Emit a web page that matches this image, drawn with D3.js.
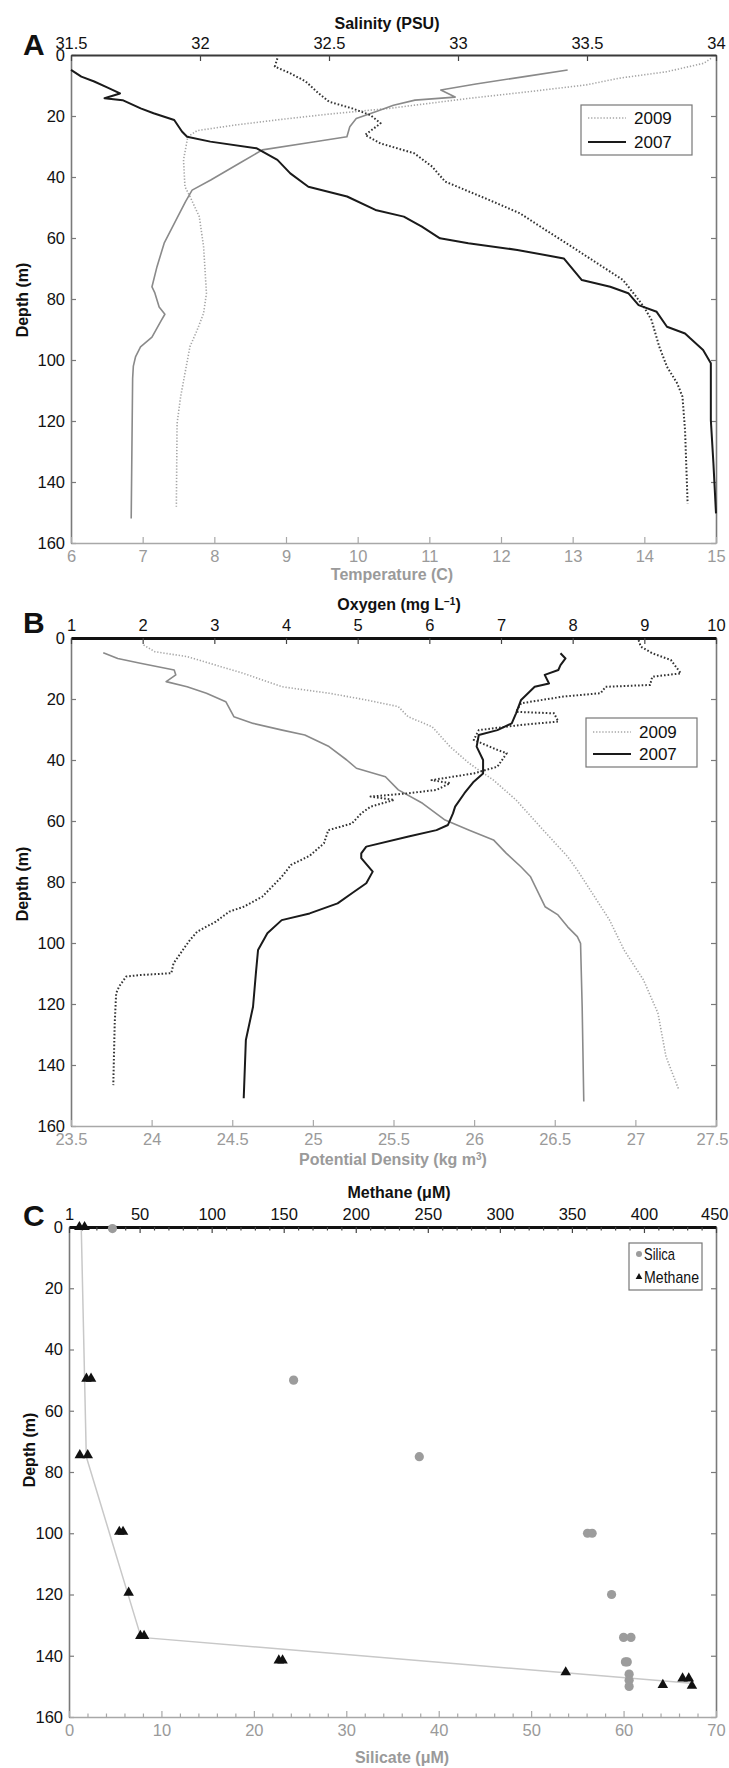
<!DOCTYPE html>
<html><head><meta charset="utf-8">
<script src="https://cdn.jsdelivr.net/npm/d3@7"></script>
<style>
body{margin:0;background:#fff;}
svg{display:block;}
</style></head><body>
<svg id="chart" width="729" height="1768"></svg>
<script>
const FONT = '"Liberation Sans", Arial, Helvetica, sans-serif';
const NARROW = '"Liberation Sans Narrow", "Liberation Sans", Arial, sans-serif';

// ---------- tick labels ----------
const depthTicks = [0,20,40,60,80,100,120,140,160];
const tempTicks = [6,7,8,9,10,11,12,13,14,15];
const salTicks = [31.5,32,32.5,33,33.5,34];
const oxyTicks = [1,2,3,4,5,6,7,8,9,10];
const densTicks = [23.5,24,24.5,25,25.5,26,26.5,27,27.5];
const methTicks = [1,50,100,150,200,250,300,350,400,450];
const methMinor = [10,20,30,40,60,70,80,90,110,120,130,140,160,170,180,190,210,220,230,240,260,270,280,290,310,320,330,340,360,370,380,390,410,420,430,440];
const silTicks = [0,10,20,30,40,50,60,70];
const silMinor = [2,4,6,8,12,14,16,18,22,24,26,28,32,34,36,38,42,44,46,48,52,54,56,58,62,64,66,68];
const yearLabels = ["2009","2007"];
const chemLabels = ["Silica","Methane"];

// ---------- Panel A: [depth (m), value] ----------
const temp2007 = [[4.9,12.93],[7.0,12.35],[9.5,11.65],[11.5,11.16],[13.8,11.36],[14.8,10.8],[16.5,10.5],[18.6,10.25],[20.8,9.98],[23.5,9.89],[26.8,9.85],[28.5,9.38],[31.1,8.67],[35.5,8.35],[41.0,7.95],[44.3,7.69],[48.0,7.60],[53.0,7.49],[61.7,7.30],[69.4,7.20],[76.0,7.13],[78.0,7.17],[82.6,7.23],[85.0,7.31],[87.0,7.26],[92.5,7.13],[95.7,6.97],[99.0,6.90],[102.0,6.87],[106.0,6.86],[152.0,6.84]];
const temp2009 = [[1.1,14.93],[2.7,14.83],[5.5,14.31],[7.6,13.65],[9.8,13.19],[12.0,12.4],[14.2,11.56],[17.5,10.44],[19.4,9.59],[21.1,8.94],[23.0,8.28],[24.8,7.76],[26.8,7.63],[34.4,7.57],[43.2,7.59],[46.4,7.66],[53.0,7.79],[62.8,7.85],[78.1,7.89],[84.7,7.85],[90.2,7.76],[95.6,7.66],[104.4,7.59],[112.0,7.53],[120.8,7.48],[148.1,7.47]];
const sal2007 = [[4.9,31.5],[7.1,31.54],[8.7,31.59],[10.6,31.64],[12.6,31.69],[14.2,31.63],[14.8,31.70],[17.5,31.77],[19.1,31.82],[21.3,31.90],[25.1,31.93],[26.8,31.95],[28.4,32.04],[30.6,32.22],[34.4,32.30],[38.8,32.35],[43.2,32.42],[46.4,32.57],[50.8,32.68],[53.0,32.79],[56.3,32.86],[60.1,32.93],[61.7,33.04],[63.9,33.23],[66.7,33.41],[73.8,33.48],[76.0,33.59],[78.1,33.66],[82.0,33.70],[84.2,33.77],[89.1,33.81],[91.3,33.88],[92.9,33.90],[96.7,33.95],[101.1,33.98],[119.7,33.98],[133.9,33.99],[150.3,34.0]];
const sal2009 = [[1.1,32.30],[3.8,32.29],[6.0,32.35],[8.7,32.41],[12.6,32.46],[15.3,32.50],[17.5,32.59],[19.7,32.66],[22.4,32.70],[26.2,32.64],[29.0,32.70],[32.2,32.83],[36.6,32.90],[41.5,32.95],[47.5,33.12],[51.9,33.24],[57.4,33.34],[62.8,33.44],[68.3,33.54],[73.8,33.64],[78.1,33.68],[82.5,33.72],[86.9,33.75],[95.6,33.78],[102.2,33.81],[107.7,33.85],[112.0,33.87],[123.0,33.88],[147.0,33.89]];

// ---------- Panel B ----------
const dens2007 = [[4.8,23.70],[6.7,23.79],[8.3,23.93],[10.5,24.14],[12.1,24.15],[14.3,24.09],[16.0,24.22],[18.1,24.34],[20.9,24.46],[25.8,24.51],[28.0,24.63],[30.2,24.81],[31.8,24.95],[35.6,25.10],[40.0,25.21],[42.7,25.27],[45.5,25.45],[49.8,25.53],[54.2,25.68],[59.7,25.82],[63.0,25.97],[66.2,26.12],[70.6,26.20],[75.0,26.29],[78.3,26.35],[88.1,26.44],[90.8,26.52],[94.7,26.58],[97.9,26.64],[100.1,26.66],[120.9,26.67],[152.0,26.68]];
const dens2009 = [[2.3,23.95],[4.5,24.02],[6.1,24.22],[9.4,24.43],[11.6,24.57],[16.0,24.81],[18.1,25.10],[20.3,25.33],[22.5,25.53],[25.8,25.59],[29.1,25.74],[35.6,25.85],[41.1,25.97],[46.6,26.12],[53.1,26.26],[61.9,26.41],[71.7,26.58],[76.1,26.64],[85.9,26.76],[92.5,26.84],[102.3,26.93],[112.1,27.05],[123.0,27.14],[137.3,27.19],[148.2,27.27]];
const oxy2007 = [[5.0,7.83],[6.7,7.90],[8.9,7.83],[10.5,7.80],[12.1,7.61],[14.9,7.67],[16.0,7.47],[20.3,7.28],[24.7,7.21],[28.0,7.15],[30.2,6.95],[31.8,6.69],[35.6,6.66],[40.0,6.75],[44.4,6.75],[47.1,6.62],[50.9,6.49],[55.3,6.36],[57.5,6.33],[61.3,6.26],[63.0,6.10],[65.1,5.71],[68.4,5.12],[70.6,5.05],[72.2,5.05],[76.6,5.21],[80.4,5.12],[83.7,4.92],[87.0,4.72],[90.3,4.33],[92.5,3.94],[96.8,3.74],[102.3,3.61],[109.9,3.58],[120.9,3.54],[131.8,3.44],[150.9,3.41]];
const oxy2009 = [[0.7,8.92],[2.8,8.95],[5.0,9.11],[7.2,9.37],[11.6,9.51],[12.7,9.11],[15.4,9.08],[16.0,8.46],[18.1,8.39],[19.2,7.87],[21.4,7.28],[24.2,7.21],[24.7,7.74],[27.4,7.80],[28.5,7.28],[30.2,6.69],[33.4,6.62],[36.7,6.95],[37.8,7.08],[42.2,6.95],[44.4,6.62],[46.6,6.03],[47.6,6.29],[49.8,6.10],[50.9,5.71],[52.0,5.18],[53.1,5.51],[55.3,5.18],[57.5,5.05],[60.8,4.92],[63.0,4.59],[67.3,4.53],[71.4,4.33],[74.4,4.07],[78.3,3.94],[84.8,3.67],[88.1,3.41],[89.7,3.21],[93.0,3.02],[96.3,2.76],[99.0,2.66],[102.3,2.56],[106.7,2.43],[109.9,2.40],[110.5,1.97],[111.0,1.77],[114.3,1.67],[116.5,1.63],[126.3,1.61],[146.6,1.59]];

// ---------- Panel C ----------
const silica = [[0.5,4.7],[50,24.3],[75,37.9],[100,56.1],[100,56.6],[120,58.7],[134,60.0],[134,60.8],[142,60.2],[142,60.4],[146,60.6],[148,60.6],[150,60.6]];
const methane = [[0,8.2],[0,11.8],[49.5,13.1],[49.5,16.3],[74.5,8.5],[74.5,14.0],[99.5,35.9],[99.5,38.5],[119.4,42.4],[133.5,50.5],[133.5,53.1],[141.5,146.6],[141.5,149.2],[145.4,345.7],[149.5,413.1],[147.4,426.8],[147.4,431.1],[149.8,433.3]];
const methaneFit = [[0,9.5],[75,13],[134,51],[149,433]];

// ---------- drawing ----------
const svg = d3.select("#chart");
const fmt = d => String(d);
const EDGE = 728;

function styleAxis(sel, domainColor, domainWidth, textColor, fontSize){
  sel.attr("font-family", FONT).attr("font-size", fontSize);
  sel.select(".domain").attr("stroke", domainColor).attr("stroke-width", domainWidth);
  sel.selectAll(".tick line").attr("stroke", domainColor).attr("stroke-width", 1.2);
  sel.selectAll(".tick text").attr("fill", textColor);
}

// keep horizontal tick labels inside the page
function keepInside(sel, scale){
  sel.selectAll(".tick text").each(function(d){
    const w = this.getComputedTextLength();
    const right = scale(d) + w / 2;
    if (right > EDGE) d3.select(this).attr("x", EDGE - right);
  });
}

function frame(o){
  const g = svg.append("g");
  const la = g.append("g").attr("transform", `translate(${o.x0},0)`)
    .call(d3.axisLeft(o.y).tickValues(depthTicks).tickFormat(fmt).tickSizeInner(-5).tickSizeOuter(0).tickPadding(6));
  styleAxis(la, "#7a7a7a", 1.6, "#111", 16.5);
  const ra = g.append("g").attr("transform", `translate(${o.x1},0)`)
    .call(d3.axisRight(o.y).tickValues(depthTicks).tickFormat("").tickSizeInner(-5).tickSizeOuter(0));
  styleAxis(ra, "#7a7a7a", 1.6, "#111", 16.5);
  const ba = g.append("g").attr("transform", `translate(0,${o.y1})`)
    .call(d3.axisBottom(o.xb).tickValues(o.bTicks).tickFormat(fmt).tickSizeInner(-6).tickSizeOuter(0).tickPadding(7));
  styleAxis(ba, "#a8a8a8", 1.6, "#9a9a9a", 16.5);
  keepInside(ba, o.xb);
  if (o.bMinor){
    g.append("g").attr("transform", `translate(0,${o.y1})`)
      .call(d3.axisBottom(o.xb).tickValues(o.bMinor).tickFormat("").tickSizeInner(-3.5).tickSizeOuter(0))
      .call(s => { s.select(".domain").remove(); s.selectAll("line").attr("stroke","#a8a8a8").attr("stroke-width",1.2); });
  }
  const ta = g.append("g").attr("transform", `translate(0,${o.y0})`)
    .call(d3.axisTop(o.xt).tickValues(o.tTicks).tickFormat(fmt).tickSizeInner(-6).tickSizeOuter(0).tickPadding(o.tPad));
  styleAxis(ta, o.topColor, o.topWidth, "#111", 16.5);
  ta.selectAll(".tick line").attr("stroke", "#444");
  keepInside(ta, o.xt);
  if (o.tMinor){
    g.append("g").attr("transform", `translate(0,${o.y0})`)
      .call(d3.axisTop(o.xt).tickValues(o.tMinor).tickFormat("").tickSizeInner(-3.5).tickSizeOuter(0))
      .call(s => { s.select(".domain").remove(); s.selectAll("line").attr("stroke","#444").attr("stroke-width",1.2); });
  }
  g.append("text").attr("x", 23).attr("y", o.letterY).text(o.letter)
    .attr("font-family", FONT).attr("font-weight", "bold").attr("font-size", 30).attr("fill", "#111");
  g.append("text").attr("transform", `translate(${o.depthX},${o.depthY}) rotate(-90)`)
    .attr("text-anchor", "middle").attr("font-family", FONT).attr("font-weight", "bold")
    .attr("font-size", 16).attr("fill", "#111").text("Depth (m)");
  return g;
}

function title(x, y, color, parts){
  const t = svg.append("text").attr("x", x).attr("y", y).attr("text-anchor", "middle")
    .attr("font-family", FONT).attr("font-weight", "bold").attr("font-size", 16).attr("fill", color);
  parts.forEach(p => {
    const ts = t.append("tspan").text(p.t);
    if (p.sup) ts.attr("font-size", 10).attr("baseline-shift", "super");
  });
}

function curve(g, data, x, y, style){
  const line = d3.line().x(d => x(d[1])).y(d => y(d[0]));
  g.append("path").datum(data).attr("d", line).attr("fill", "none")
    .attr("stroke", style.c).attr("stroke-width", style.w)
    .attr("stroke-dasharray", style.dash || null).attr("stroke-linejoin", "round");
}

const S_GRAY_SOLID = {c:"#8a8a8a", w:1.6};
const S_GRAY_DOT = {c:"#a6a6a6", w:1.6, dash:"1.3,1.8"};
const S_BLACK_SOLID = {c:"#1a1a1a", w:2.0};
const S_BLACK_DOT = {c:"#333", w:2.0, dash:"1.6,2"};

function yearLegend(g, x0, y0, w, h, rowY){
  g.append("rect").attr("x", x0).attr("y", y0).attr("width", w).attr("height", h)
    .attr("fill", "#fff").attr("stroke", "#777").attr("stroke-width", 1.2);
  const styles = [S_GRAY_DOT, S_BLACK_SOLID];
  yearLabels.forEach((lab, i) => {
    const yy = rowY[i];
    g.append("line").attr("x1", x0 + 7).attr("x2", x0 + 45).attr("y1", yy).attr("y2", yy)
      .attr("stroke", styles[i].c).attr("stroke-width", styles[i].w).attr("stroke-dasharray", styles[i].dash || null);
    g.append("text").attr("x", x0 + 53).attr("y", yy).attr("dy", "0.36em").text(lab)
      .attr("font-family", FONT).attr("font-size", 17).attr("fill", "#111");
  });
}

// ===== Panel A =====
{
  const y = d3.scaleLinear().domain([0,160]).range([55,543]);
  const xT = d3.scaleLinear().domain([6,15]).range([71,716]);
  const xS = d3.scaleLinear().domain([31.5,34]).range([71,716]);
  const g = frame({x0:71, x1:716, y0:55, y1:543, y, xb:xT, xt:xS, bTicks:tempTicks, tTicks:salTicks,
    tPad:6, topColor:"#3a3a3a", topWidth:2, letter:"A", letterY:55, depthX:28, depthY:300});
  curve(g, temp2009, xT, y, S_GRAY_DOT);
  curve(g, temp2007, xT, y, S_GRAY_SOLID);
  curve(g, sal2009, xS, y, S_BLACK_DOT);
  curve(g, sal2007, xS, y, S_BLACK_SOLID);
  yearLegend(g, 581, 105, 111, 50, [118, 142]);
  title(387, 29, "#111", [{t:"Salinity (PSU)"}]);
  title(392, 580, "#9a9a9a", [{t:"Temperature (C)"}]);
}

// ===== Panel B =====
{
  const y = d3.scaleLinear().domain([0,160]).range([638,1126]);
  const xO = d3.scaleLinear().domain([1,10]).range([71,716]);
  const xD = d3.scaleLinear().domain([23.5,27.5]).range([71,716]);
  const g = frame({x0:71, x1:716, y0:638, y1:1126, y, xb:xD, xt:xO, bTicks:densTicks, tTicks:oxyTicks,
    tPad:7, topColor:"#111", topWidth:3, letter:"B", letterY:633, depthX:28, depthY:884});
  curve(g, dens2009, xD, y, S_GRAY_DOT);
  curve(g, dens2007, xD, y, S_GRAY_SOLID);
  curve(g, oxy2009, xO, y, S_BLACK_DOT);
  curve(g, oxy2007, xO, y, S_BLACK_SOLID);
  yearLegend(g, 586, 718, 111, 49, [732, 754]);
  title(399, 610, "#111", [{t:"Oxygen (mg L"},{t:"\u22121", sup:true},{t:")"}]);
  title(393, 1165, "#9a9a9a", [{t:"Potential Density (kg m"},{t:"3", sup:true},{t:")"}]);
}

// ===== Panel C =====
{
  const y = d3.scaleLinear().domain([0,160]).range([1227,1717]);
  const xSi = d3.scaleLinear().domain([0,70]).range([69,716]);
  const xM = d3.scaleLinear().domain([1,450]).range([69,716]);
  const g = frame({x0:69, x1:716, y0:1227, y1:1717, y, xb:xSi, xt:xM, bTicks:silTicks, tTicks:methTicks,
    bMinor:silMinor, tMinor:methMinor, tPad:7, topColor:"#111", topWidth:3, letter:"C", letterY:1226, depthX:35, depthY:1450});
  curve(g, methaneFit, xM, y, {c:"#c8c8c8", w:1.5});
  g.selectAll(".sil").data(silica).join("circle").attr("class","sil")
    .attr("cx", d => xSi(d[1])).attr("cy", d => y(d[0])).attr("r", 4.6).attr("fill", "#9c9c9c");
  const tri = d3.symbol().type(d3.symbolTriangle).size(48);
  g.selectAll(".meth").data(methane).join("path").attr("class","meth")
    .attr("transform", d => `translate(${xM(d[1])},${y(d[0])})`).attr("d", tri).attr("fill", "#111");
  g.append("rect").attr("x", 629).attr("y", 1243).attr("width", 73).attr("height", 47)
    .attr("fill", "#fff").attr("stroke", "#777").attr("stroke-width", 1.2);
  g.append("circle").attr("cx", 639).attr("cy", 1254).attr("r", 3).attr("fill", "#9c9c9c");
  g.append("path").attr("transform", "translate(639,1277)").attr("d", d3.symbol().type(d3.symbolTriangle).size(20)).attr("fill", "#111");
  const lw = [31, 55];
  chemLabels.forEach((lab, i) => {
    g.append("text").attr("x", 644).attr("y", [1254,1277][i]).attr("dy", "0.36em").text(lab)
      .attr("font-family", NARROW).attr("font-size", 17).attr("fill", "#111")
      .attr("textLength", lw[i]).attr("lengthAdjust", "spacingAndGlyphs");
  });
  title(399, 1198, "#111", [{t:"Methane (\u03bcM)"}]);
  title(402, 1763, "#9a9a9a", [{t:"Silicate (\u03bcM)"}]);
}
</script></body></html>
